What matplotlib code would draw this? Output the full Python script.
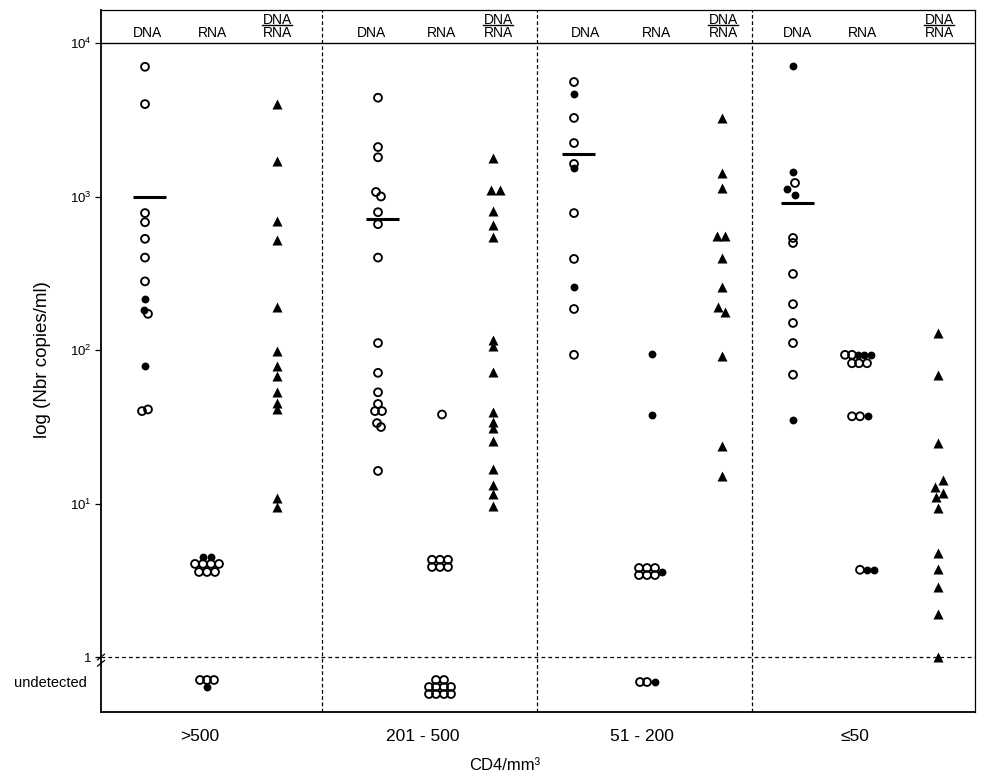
import numpy as np
import matplotlib
matplotlib.use('Agg')
import matplotlib.pyplot as plt
from matplotlib.transforms import blended_transform_factory
from matplotlib.ticker import NullLocator

plt.rcParams['font.family'] = ['Liberation Sans', 'DejaVu Sans']
plt.rcParams['mathtext.fontset'] = 'custom'
plt.rcParams['mathtext.rm'] = 'Liberation Sans'

# ---------------- data ----------------
GROUPS = ['>500', '201 - 500', '51 - 200', '≤50']
YTICK_VALUES = [1, 10, 100, 1000, 10000]
YTICK_LABELS = ['1', r'$\mathregular{10^1}$', r'$\mathregular{10^2}$',
                r'$\mathregular{10^3}$', r'$\mathregular{10^4}$']

DNA_VALUES = [
    [7000, 4000, 780, 680, 530, 400, 280, 215, 182, 172, 79, 40, 41],
    [4400, 2100, 1800, 1070, 1000, 790, 660, 400, 111, 71, 53, 44.5, 40, 40, 33.4, 31.5, 16.3],
    [5570, 4650, 3250, 2230, 1630, 1535, 780, 392, 257, 185, 93],
    [7080, 1445, 1225, 1120, 1023, 537, 498, 313, 199, 150, 111, 69, 35],
]
DNA_FILLED = [
    [0, 0, 0, 0, 0, 0, 0, 1, 1, 0, 1, 0, 0],
    [0, 0, 0, 0, 0, 0, 0, 0, 0, 0, 0, 0, 0, 0, 0, 0, 0],
    [0, 1, 0, 0, 0, 1, 0, 0, 1, 0, 0],
    [1, 1, 0, 1, 1, 0, 0, 0, 0, 0, 0, 0, 1],
]
DNA_MEAN = [1000, 715, 1900, 910]

RNA_VALUES = [
    [4.48, 4.48, 4.04, 4.04, 4.04, 4.04, 3.58, 3.58, 3.58],
    [38, 4.3, 4.3, 4.3, 3.86, 3.86, 3.86],
    [94, 38, 3.8, 3.8, 3.8, 3.42, 3.42, 3.42, 3.6],
    [93, 93, 93, 93, 93, 82, 82, 82, 37, 37, 37, 3.7, 3.7, 3.7],
]
RNA_FILLED = [
    [1, 1, 0, 0, 0, 0, 0, 0, 0],
    [0, 0, 0, 0, 0, 0, 0],
    [1, 1, 0, 0, 0, 0, 0, 0, 1],
    [0, 0, 1, 1, 1, 0, 0, 0, 0, 0, 1, 0, 1, 1],
]
RNA_UNDETECTED_OPEN = [3, 10, 2, 0]
RNA_UNDETECTED_FILLED = [1, 0, 1, 0]

RATIO_VALUES = [
    [4000, 1700, 690, 521, 190, 98, 79, 68, 53, 45, 41, 10.9, 9.5],
    [1780, 1100, 1100, 805, 652, 545, 116, 106, 72, 39.5, 34, 31, 25.5, 16.8, 13.2, 11.5, 9.6],
    [3250, 1420, 1135, 553, 553, 397, 257, 190, 177, 91, 23.7, 15.1],
    [129, 69, 24.8, 14.2, 12.8, 11.7, 11.0, 9.4, 4.76, 3.74, 2.86, 1.91, 1.0],
]

# ---------------- layout (x in pixel-like units from left spine) ----------------
XMAX = 874
DIVIDERS = [221, 436, 651]
COL_X = [[44, 106, 176], [277, 339, 392], [473, 551, 621], [692, 759, 837]]
HEADER_X = [[46, 111, 176], [270, 340, 397], [484, 555, 622], [696, 761, 838]]
GROUP_LABEL_X = [99, 322, 541, 754]
DNA_DX = [
    [0, 0, 0, 0, 0, 0, 0, 0, -1, 3, 0, -3, 3],
    [0, 0, 0, -2, 3, 0, 0, 0, 0, 0, 0, 0, -3, 4, -1, 3, 0],
    [0] * 11,
    [0, 0, 2, -6, 2, 0, 0, 0, 0, 0, 0, 0, 0],
]
RNA_DX = [
    [-4, 4, -12, -4, 4, 12, -8, 0, 8],
    [2, -8, 0, 8, -8, 0, 8],
    [0, 0, -13, -5, 3, -13, -5, 3, 10],
    [-15, -8, -2, 4, 11, -8, -1, 7, -8, 0, 8, 0, 7, 14],
]
RATIO_DX = [
    [0] * 13,
    [0, -2, 7, 0, 0, 0, 0, 0, 0, 0, 0, 0, 0, 0, 0, 0, 0],
    [0, 0, 0, -5, 3, 0, 0, -4, 3, 0, 0, 0],
    [0, 0, 0, 5, -3, 5, -2, 0, 0, 0, 0, 0, 0],
]
# undetected marker arrangement (dx, dy in px)
UND_OPEN_POS = [
    [(-7, 0), (0, 0), (7, 0)],
    [(-4, 0), (4, 0), (-11, 7), (-4, 7), (4, 7), (11, 7), (-11, 14), (-4, 14), (4, 14), (11, 14)],
    [(-12, 2), (-5, 2)],
    [],
]
UND_FILLED_POS = [[(0, 7)], [], [(3, 2)], []]
DECADE_PX = 153.5
UND_BASE = 10 ** (-23 / DECADE_PX)

OPEN_S, FILL_S, TRI_S = 32, 32, 52

fig = plt.figure(figsize=(9.85, 7.76), dpi=100)
ax = fig.add_axes([101 / 985, 1 - 712 / 776, 874 / 985, 702 / 776])
ax.set_yscale('log')
ax.set_xlim(0, XMAX)
ax.set_ylim(10 ** (-55 / DECADE_PX), 10 ** (647 / DECADE_PX))


def draw_circles(xs, ys, filled):
    xs = np.asarray(xs, float); ys = np.asarray(ys, float)
    f = np.asarray(filled, bool)
    if (~f).any():
        ax.scatter(xs[~f], ys[~f], s=OPEN_S, facecolors='none', edgecolors='black',
                   linewidths=1.35, zorder=3)
    if f.any():
        ax.scatter(xs[f], ys[f], s=FILL_S, color='black', linewidths=0, zorder=4)


for g in range(4):
    cx = COL_X[g]
    # DNA
    draw_circles(cx[0] + np.array(DNA_DX[g]), DNA_VALUES[g], DNA_FILLED[g])
    ax.plot([cx[0] - 12, cx[0] + 21], [DNA_MEAN[g]] * 2, color='black', lw=2.2,
            solid_capstyle='butt', zorder=5)
    # RNA
    draw_circles(cx[1] + np.array(RNA_DX[g]), RNA_VALUES[g], RNA_FILLED[g])
    # undetected
    uo = UND_OPEN_POS[g][:RNA_UNDETECTED_OPEN[g]]
    uf = UND_FILLED_POS[g][:RNA_UNDETECTED_FILLED[g]]
    if uo:
        draw_circles([cx[1] + d[0] for d in uo],
                     [UND_BASE * 10 ** (-d[1] / DECADE_PX) for d in uo], [0] * len(uo))
    if uf:
        draw_circles([cx[1] + d[0] for d in uf],
                     [UND_BASE * 10 ** (-d[1] / DECADE_PX) for d in uf], [1] * len(uf))
    # ratio triangles
    ax.scatter(cx[2] + np.array(RATIO_DX[g]), RATIO_VALUES[g], marker='^', s=TRI_S,
               color='black', linewidths=0, zorder=4)

# reference lines
for d in DIVIDERS:
    ax.axvline(d, color='black', lw=0.9, ls=(0, (3, 2)), zorder=1)
ax.axhline(1, color='black', lw=0.9, ls=(0, (3, 2.5)), zorder=1)
ax.axhline(1e4, color='black', lw=1.0, zorder=1)

# headers
tr = blended_transform_factory(ax.transData, ax.transAxes)
for g in range(4):
    hx = HEADER_X[g]
    ax.text(hx[0], 0.9615, 'DNA', transform=tr, ha='center', va='baseline', fontsize=10)
    ax.text(hx[1], 0.9615, 'RNA', transform=tr, ha='center', va='baseline', fontsize=10)
    ax.text(hx[2], 0.9615, 'RNA', transform=tr, ha='center', va='baseline', fontsize=10)
    ax.text(hx[2], 0.9805, 'DNA', transform=tr, ha='center', va='baseline', fontsize=10)
    ax.plot([hx[2] - 15, hx[2] + 15], [0.9785, 0.9785], transform=tr, color='black',
            lw=1.0, clip_on=False)

# axes styling
ax.set_yticks(YTICK_VALUES)
ax.set_yticklabels(YTICK_LABELS, fontsize=9.5)
ax.yaxis.set_minor_locator(NullLocator())
ax.tick_params(axis='y', direction='out', length=4, width=0.9, pad=3)
ax.set_xticks(GROUP_LABEL_X)
ax.set_xticklabels(GROUPS, fontsize=12.5)
ax.tick_params(axis='x', length=0, pad=12)
for side in ['left', 'bottom']:
    ax.spines[side].set_linewidth(1.3)
for side in ['top', 'right']:
    ax.spines[side].set_linewidth(0.9)

# break mark on the y axis at 1
y1 = 55 / 702
for off in (0.0, -0.009):
    ax.plot([-0.004, 0.004], [y1 + off - 0.004, y1 + off + 0.004], transform=ax.transAxes,
            color='black', lw=0.9, clip_on=False)

ax.text(-0.058, (712 - 683) / 702, 'undetected', transform=ax.transAxes, ha='center',
        va='center', fontsize=10.5)

fig.text(43 / 985, 1 - 360 / 776, 'log (Nbr copies/ml)', rotation=90, ha='center',
         va='center', fontsize=13.5)
fig.text(505 / 985, 1 - 765 / 776, 'CD4/mm³', ha='center', va='center', fontsize=12)

fig.savefig('out.png', dpi=100)
